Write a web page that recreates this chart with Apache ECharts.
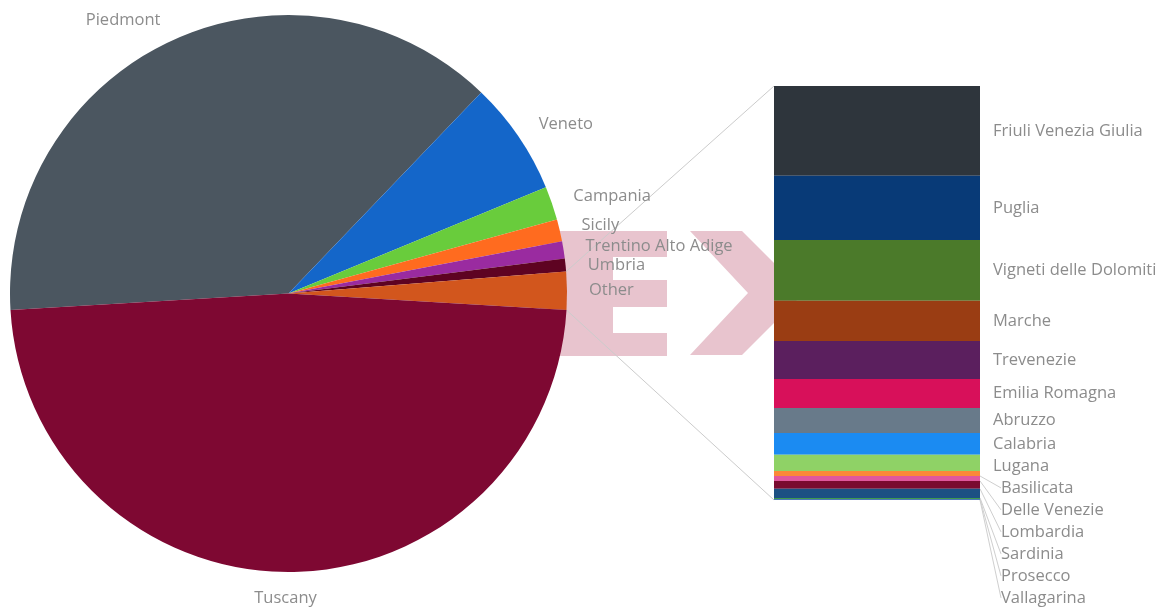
<!DOCTYPE html>
<html><head><meta charset="utf-8">
<script src="https://cdn.jsdelivr.net/npm/echarts@6/dist/echarts.min.js"></script>
<style>html,body{margin:0;padding:0;background:#fff}#c{width:1172px;height:611px}</style>
</head><body><div id="c"></div>
<script>
// ---- data ----
const pieNames  = ['Piedmont','Veneto','Campania','Sicily','Trentino Alto Adige','Umbria','Other','Tuscany'];
const pieValues = [38.1, 6.6, 1.95, 1.28, 1.0, 0.75, 2.2, 48.1];
const pieColors = ['#4b5660','#1466c9','#69cc3c','#ff6b1f','#9a2ba0','#5e0322','#d2561d','#7e0832'];

const otherNames  = ['Friuli Venezia Giulia','Puglia','Vigneti delle Dolomiti','Marche','Trevenezie','Emilia Romagna','Abruzzo','Calabria','Lugana','Basilicata','Delle Venezie','Lombardia','Sardinia','Prosecco','Vallagarina'];
const otherValues = [21.7, 15.5, 14.7, 9.7, 9.2, 7.0, 6.0, 5.3, 3.9, 1.2, 1.2, 1.9, 2.2, 0.25, 0.25];
const otherColors = ['#2e353c','#083a77','#4b7a2a','#9a3d13','#5b1f5e','#d8105a','#687a8a','#1b8bf2','#8fd266','#fb8838','#e0579d','#7a0b30','#1c5083','#3f9a4e','#4c79b4'];

// ---- layout / style ----
const W = 1172, H = 611;
const PIE_CX = 288.5, PIE_CY = 293.5, PIE_R = 278.5, START = 183.4;
const GRID = {left: 774, top: 86, width: 206, bottom: 111};
const LABEL_GAP = 22;   // min vertical spacing of bar labels
const font = {fontFamily: 'Open Sans', fontSize: 16.5, color: '#8c8c8c'};

const chart = echarts.init(document.getElementById('c'), null, {renderer: 'canvas'});
const tuscIdx = pieNames.indexOf('Tuscany');
const otherIdx = pieNames.indexOf('Other');
const otherTotal = otherValues.reduce((a, b) => a + b, 0);

// label offsets for the stacked bar: cascade overlapping labels downward
const gridH = H - GRID.top - GRID.bottom;
const labelDy = [];
{
  let cum = 0, prev = -Infinity;
  otherValues.forEach((v, i) => {
    const c = GRID.top + (cum + v / 2) / otherTotal * gridH;
    const y = Math.max(c, prev + LABEL_GAP);
    labelDy.push(y - c);
    prev = y;
    cum += v;
  });
}

const barSeries = otherNames.map((n, i) => ({
  type: 'bar', name: n, stack: 'other', barWidth: '100%',
  data: [otherValues[i]],
  itemStyle: {color: otherColors[i]},
  label: Object.assign({show: true, position: 'right', distance: 13, formatter: '{a}'}, font),
  labelLine: {show: labelDy[i] > 5, lineStyle: {color: '#cfcfcf', width: 1}},
  labelLayout: {dy: labelDy[i], dx: labelDy[i] > 5 ? 8 : 0},
  emphasis: {disabled: true},
  animation: false
}));

chart.setOption({
  backgroundColor: '#fff',
  animation: false,
  grid: GRID,
  xAxis: {type: 'category', data: ['Other'], show: false},
  yAxis: {type: 'value', inverse: true, min: 0, max: otherTotal, show: false},
  series: [{
    type: 'pie', center: [PIE_CX, PIE_CY], radius: PIE_R, startAngle: START, clockwise: true,
    data: pieNames.map((n, i) => ({name: n, value: pieValues[i], itemStyle: {color: pieColors[i]}})),
    label: Object.assign({show: true, formatter: '{b}', distanceToLabelLine: 2}, font),
    labelLine: {show: false, length: 22, length2: 0},
    labelLayout: p => p.dataIndex === tuscIdx
      ? {dx: PIE_CX - (p.labelRect.x + p.labelRect.width / 2) - 3, dy: 2} : {},
    emphasis: {disabled: true},
    animation: false
  }].concat(barSeries)
});

// connector lines from "Other" slice to the bar
const totalPie = pieValues.reduce((a, b) => a + b, 0);
let cumP = 0;
for (let i = 0; i < otherIdx; i++) cumP += pieValues[i];
const a0 = (START - cumP / totalPie * 360) * Math.PI / 180;
const a1 = (START - (cumP + pieValues[otherIdx]) / totalPie * 360) * Math.PI / 180;
const p0 = [PIE_CX + PIE_R * Math.cos(a0), PIE_CY - PIE_R * Math.sin(a0)];
const p1 = [PIE_CX + PIE_R * Math.cos(a1), PIE_CY - PIE_R * Math.sin(a1)];
const yTop = chart.convertToPixel({yAxisIndex: 0}, 0);
const yBot = chart.convertToPixel({yAxisIndex: 0}, otherTotal);

chart.setOption({
  graphic: [
    {type: 'polygon', z: 0, silent: true,
     shape: {points: [[540,231],[667,231],[667,257],[613,257],[613,280],[667,280],[667,307],[613,307],[613,333],[667,333],[667,356],[540,356]]},
     style: {fill: '#e8c4ce'}},
    {type: 'polygon', z: 0, silent: true,
     shape: {points: [[690,231],[742,231],[804,293],[742,355],[690,355],[748,293]]},
     style: {fill: '#e8c4ce'}},
    {type: 'line', z: 1, silent: true,
     shape: {x1: p0[0], y1: p0[1], x2: GRID.left, y2: yTop},
     style: {stroke: '#cccccc', lineWidth: 1}},
    {type: 'line', z: 1, silent: true,
     shape: {x1: p1[0], y1: p1[1], x2: GRID.left, y2: yBot},
     style: {stroke: '#cccccc', lineWidth: 1}}
  ]
});
</script>
</body></html>
